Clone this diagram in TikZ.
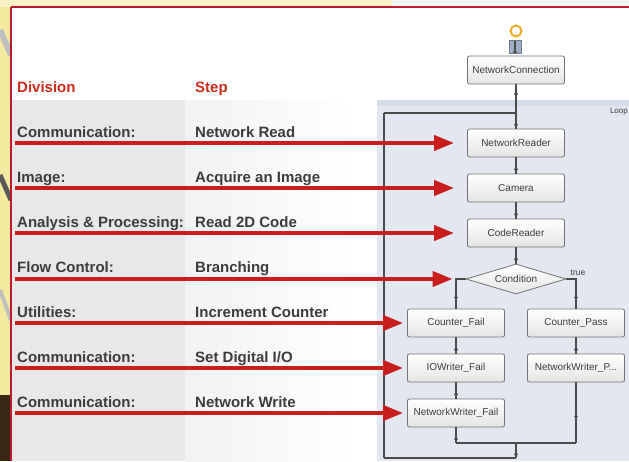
\documentclass[tikz,border=0pt]{standalone}
\usepackage{fontspec}
\setmainfont{Liberation Sans}
\usetikzlibrary{arrows.meta,shapes.geometric,decorations.markings}
\definecolor{framered}{RGB}{190,25,50}
\definecolor{hdrred}{RGB}{205,45,30}
\definecolor{txtgray}{RGB}{60,60,60}
\definecolor{colone}{RGB}{232,232,232}
\definecolor{coltwo}{RGB}{242,242,242}
\definecolor{panelbg}{RGB}{226,231,240}
\definecolor{panelhdr}{RGB}{214,221,234}
\definecolor{boxborder}{RGB}{115,115,115}
\definecolor{boxlow}{RGB}{228,228,228}
\definecolor{arrowred}{RGB}{200,30,30}
\definecolor{flowgray}{RGB}{75,75,75}
\definecolor{bgyellow}{RGB}{243,234,160}
\definecolor{bgbeige}{RGB}{245,240,215}
\definecolor{portblue}{RGB}{160,175,200}
\definecolor{gold}{RGB}{232,172,40}
\tikzset{
  stepbox/.style={rectangle, rounded corners=2pt, draw=boxborder, line width=0.8pt,
    top color=white, bottom color=boxlow, minimum width=97pt, minimum height=28pt,
    inner sep=1pt, font=\fontsize{10}{11}\selectfont, text=txtgray},
  condbox/.style={diamond, aspect=3.33, draw=boxborder, line width=0.8pt,
    top color=white, bottom color=boxlow, minimum width=100pt, minimum height=30pt,
    inner sep=0pt, font=\fontsize{10}{11}\selectfont, text=txtgray},
  flow/.style={draw=flowgray, line width=1.1pt},
  midarrow/.style={postaction={decorate}, decoration={markings,
    mark=at position #1 with {\arrowreversed{Latex[length=4.5pt,width=4.5pt]}}}},
  midarrow/.default=0.5,
  redarrow/.style={draw=arrowred, line width=4pt, -{Triangle[length=20pt,width=15pt]}},
  divtext/.style={anchor=base west, inner sep=0pt, font=\fontsize{15}{17}\selectfont\bfseries, text=txtgray},
  hdrtext/.style={anchor=base west, inner sep=0pt, font=\fontsize{15}{17}\selectfont\bfseries, text=hdrred},
}
\begin{document}
\begin{tikzpicture}[x=1pt,y=-1pt]
\useasboundingbox (0,0) rectangle (629,461);
\clip (0,0) rectangle (629,461);
% outside background
\fill[bgbeige] (0,0) rectangle (629,461);
\fill[bgyellow] (0,0) rectangle (11,461);
\fill[bgyellow!60!white] (0,0) rectangle (392,7);
\fill[white!96!black] (392,0) rectangle (629,7);
\draw[gray!50, line width=6pt] (0,30) -- (11,55);
\draw[gray!70!black, line width=5pt] (0,175) -- (11,200);
\draw[gray!50, line width=4pt] (0,290) -- (11,320);
\fill[black!70!brown] (0,395) rectangle (11,461);
% framed area
\fill[white] (11,7) rectangle (629,461);
\fill[colone] (12,100) rectangle (185,461);
\shade[left color=coltwo, right color=white] (185,100) rectangle (352,461);
\fill[panelbg] (377,100) rectangle (629,461);
\fill[panelhdr] (377,100) rectangle (629,106);
\draw[framered, line width=2pt] (11,7) -- (629,7);
\draw[framered, line width=2pt] (11,7) -- (11,461);
\node[anchor=east, font=\fontsize{8}{9}\selectfont, text=txtgray, inner sep=1pt] (looplbl) at (629,112) {Loop};
% header
\node[hdrtext] (hdiv) at (17,92) {Division};
\node[hdrtext] (hstep) at (195,92) {Step};
% rows
\node[divtext] (d1) at (17,137) {Communication:};
\node[divtext] (s1) at (195,137) {Network Read};
\node[divtext] (d2) at (17,182) {Image:};
\node[divtext] (s2) at (195,182) {Acquire an Image};
\node[divtext] (d3) at (17,227) {Analysis \& Processing:};
\node[divtext] (s3) at (195,227) {Read 2D Code};
\node[divtext] (d4) at (17,272) {Flow Control:};
\node[divtext] (s4) at (195,272) {Branching};
\node[divtext] (d5) at (17,317) {Utilities:};
\node[divtext] (s5) at (195,317) {Increment Counter};
\node[divtext] (d6) at (17,362) {Communication:};
\node[divtext] (s6) at (195,362) {Set Digital I/O};
\node[divtext] (d7) at (17,407) {Communication:};
\node[divtext] (s7) at (195,407) {Network Write};
% flow nodes
\node[circle, draw=gold, line width=2pt, minimum size=11pt, inner sep=0pt] (start) at (516,31) {};
\node[rectangle, fill=portblue, draw=portblue!70!black, line width=0.5pt, minimum width=12pt, minimum height=13pt, inner sep=0pt] (port) at (515,46.5) {};
\node[stepbox] (nc) at (516,70) {NetworkConnection};
\node[stepbox] (nr) at (516,143) {NetworkReader};
\node[stepbox] (cam) at (516,188) {Camera};
\node[stepbox] (cr) at (516,233) {CodeReader};
\node[condbox] (cond) at (516,279) {Condition};
\node[stepbox] (cf) at (456,323) {Counter\_Fail};
\node[stepbox] (cp) at (576,323) {Counter\_Pass};
\node[stepbox] (iow) at (456,368) {IOWriter\_Fail};
\node[stepbox] (nwp) at (576,368) {NetworkWriter\_P...};
\node[stepbox] (nwf) at (456,413) {NetworkWriter\_Fail};
\node[anchor=south, font=\fontsize{8.5}{9}\selectfont, text=txtgray, inner sep=1pt] (truelbl) at (578,277) {true};
% coordinates
\coordinate (jn) at (516,113);
\coordinate (lt) at (384,113);
\coordinate (lb) at (384,458);
\coordinate (mb) at (516,458);
\coordinate (mm) at (516,443);
\coordinate (ml) at (456,443);
\coordinate (mr) at (576,443);
\coordinate (pt) at (515,41);
% connectors
\draw[flow, midarrow=0.6] (pt) -- (port.south);
\draw[flow, midarrow=0.2] (nc.south) -- (jn);
\draw[flow, midarrow=0.5] (jn) -- (nr.north);
\draw[flow, midarrow] (nr.south) -- (cam.north);
\draw[flow, midarrow] (cam.south) -- (cr.north);
\draw[flow, midarrow] (cr.south) -- (cond.north);
\draw[flow, midarrow=0.62] (cond.west) -| (cf.north);
\draw[flow, midarrow=0.62] (cond.east) -| (cp.north);
\draw[flow, midarrow] (cf.south) -- (iow.north);
\draw[flow, midarrow] (iow.south) -- (nwf.north);
\draw[flow, midarrow] (cp.south) -- (nwp.north);
\draw[flow, midarrow] (nwf.south) -- (ml);
\draw[flow, midarrow] (nwp.south) -- (mr);
\draw[flow] (ml) -- (mr);
\draw[flow, midarrow] (mm) -- (mb);
\draw[flow] (mb) -- (lb);
\draw[flow, midarrow=0.51] (lb) -- (lt);
\draw[flow] (lt) -- (jn);
% red arrows
\coordinate (r1) at (15,143);
\coordinate (r2) at (15,188);
\coordinate (r3) at (15,233);
\coordinate (r4) at (15,279);
\coordinate (r5) at (15,323);
\coordinate (r6) at (15,368);
\coordinate (r7) at (15,413);
\draw[redarrow, shorten >=13pt] (r1) -- (nr.west);
\draw[redarrow, shorten >=13pt] (r2) -- (cam.west);
\draw[redarrow, shorten >=13pt] (r3) -- (cr.west);
\draw[redarrow, shorten >=13pt] (r4) -- (cond.west);
\draw[redarrow, shorten >=4pt] (r5) -- (cf.west);
\draw[redarrow, shorten >=4pt] (r6) -- (iow.west);
\draw[redarrow, shorten >=4pt] (r7) -- (nwf.west);
\end{tikzpicture}
\end{document}
